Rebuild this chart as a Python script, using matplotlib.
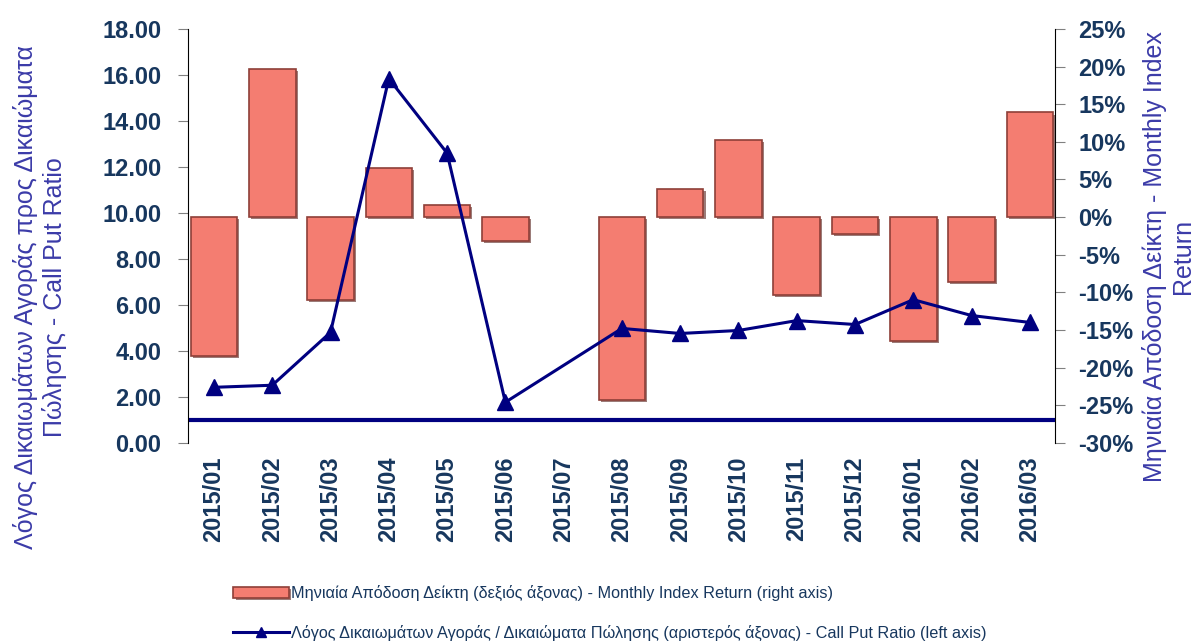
"""
Call/Put ratio (left axis) vs monthly index return (right axis), 2015/01 - 2016/03.
"""

import numpy as np
import matplotlib.pyplot as plt
import matplotlib.patheffects as pe
from matplotlib.ticker import FuncFormatter, MultipleLocator

plt.rcParams['font.family'] = ['Liberation Sans', 'DejaVu Sans']

# Data
months = ["2015/01", "2015/02", "2015/03", "2015/04", "2015/05", "2015/06", "2015/07",
          "2015/08", "2015/09", "2015/10", "2015/11", "2015/12", "2016/01", "2016/02",
          "2016/03"]
index_return = [-18.5, 19.7, -11.0, 6.5, 1.6, -3.2, np.nan,
                -24.3, 3.7, 10.2, -10.3, -2.2, -16.4, -8.6, 13.9]   # %
call_put = [2.42, 2.51, 4.81, 15.84, 12.60, 1.77, np.nan,
            4.98, 4.76, 4.89, 5.32, 5.15, 6.23, 5.54, 5.24]
ref_level = 1.0

TICK_COLOR = "#17375E"
LABEL_COLOR = "#3B3BA8"
NAVY = "#000080"
BAR_FACE = "#F47D71"
BAR_EDGE = "#8E3F38"

fig = plt.figure(figsize=(11.96, 6.42), dpi=100)
ax = fig.add_axes([0.157, 0.310, 0.725, 0.645])
ax2 = ax.twinx()

x = np.arange(len(months))

# bars (right axis)
ax2.bar(x, index_return, width=0.8, color=BAR_FACE, edgecolor=BAR_EDGE, linewidth=1.2,
        label="Μηνιαία Απόδοση Δείκτη (δεξιός άξονας) - Monthly Index Return (right axis)",
        path_effects=[pe.SimplePatchShadow(offset=(1.5, -1.5), shadow_rgbFace="#5A2520", alpha=0.6),
                      pe.Normal()])
ax2.set_ylim(-30, 25)
ax2.yaxis.set_major_locator(MultipleLocator(5))
ax2.yaxis.set_major_formatter(FuncFormatter(lambda v, p: f"{v:.0f}%"))

# line (left axis), skipping the missing month
cp = np.array(call_put)
ok = ~np.isnan(cp)
ax.plot(x[ok], cp[ok], color=NAVY, linewidth=2.2, marker="^", markersize=11,
        label="Λόγος Δικαιωμάτων Αγοράς / Δικαιώματα Πώλησης (αριστερός άξονας) - Call Put Ratio (left axis)")
ax.axhline(ref_level, color=NAVY, linewidth=3)
ax.set_ylim(0, 18)
ax.yaxis.set_major_locator(MultipleLocator(2))
ax.yaxis.set_major_formatter(FuncFormatter(lambda v, p: f"{v:.2f}"))

ax.set_xlim(-0.45, len(months) - 0.57)
ax.set_xticks(x)
ax.set_xticklabels(months, rotation=90)

# line above the bars
ax.set_zorder(ax2.get_zorder() + 1)
ax.patch.set_visible(False)

for a in (ax, ax2):
    for s in ("top", "bottom"):
        a.spines[s].set_visible(False)
    a.tick_params(axis="y", direction="out", length=7, color="#808080",
                  labelsize=17, labelcolor=TICK_COLOR)
    for lab in a.get_yticklabels():
        lab.set_fontweight("bold")
ax.tick_params(axis="y", pad=12)
ax2.tick_params(axis="y", pad=10)
ax.spines["right"].set_visible(False)
ax2.spines["left"].set_visible(False)
ax.tick_params(axis="x", length=0, labelsize=17, labelcolor=TICK_COLOR, pad=10)
for lab in ax.get_xticklabels():
    lab.set_fontweight("bold")

ax.set_ylabel("Λόγος Δικαιωμάτων Αγοράς προς Δικαιώματα\nΠώλησης - Call Put Ratio",
              fontsize=18, color=LABEL_COLOR)
ax.yaxis.set_label_coords(-0.139, 0.353)
ax2.set_ylabel("Μηνιαία Απόδοση Δείκτη - Monthly Index\nReturn",
               fontsize=18, color=LABEL_COLOR)
ax2.yaxis.set_label_coords(1.101, 0.45)

# legend below the plot, stacked
h1, l1 = ax2.get_legend_handles_labels()
h2, l2 = ax.get_legend_handles_labels()
fig.legend(h1 + h2, l1 + l2, loc="lower left", bbox_to_anchor=(0.183, -0.021), ncol=1,
           frameon=False, fontsize=11.7, labelcolor=TICK_COLOR, handlelength=3.4,
           handleheight=0.6, handletextpad=0.15, labelspacing=1.45, markerscale=0.6)

fig.savefig("out.png", dpi=100)
